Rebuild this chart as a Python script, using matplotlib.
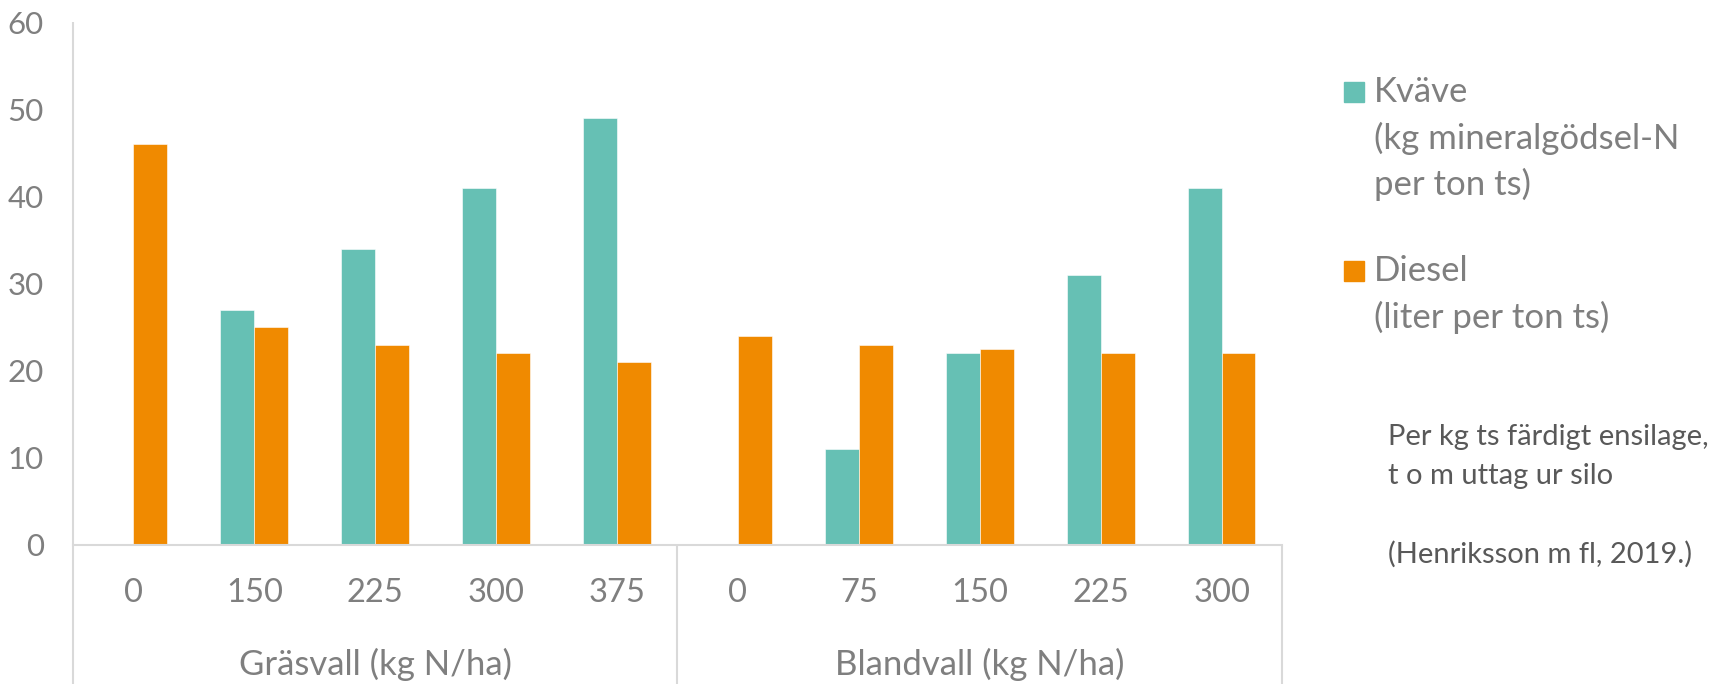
import matplotlib.pyplot as plt
import numpy as np
from matplotlib.patches import Rectangle

plt.rcParams['font.family'] = ['Lato', 'DejaVu Sans']

groups = ["Gräsvall (kg N/ha)", "Blandvall (kg N/ha)"]
doses_gras = ["0", "150", "225", "300", "375"]
doses_bland = ["0", "75", "150", "225", "300"]

# kg mineral N per ton DM, nan where no N was given
kvave = [np.nan, 27, 34, 41, 49, np.nan, 11, 22, 31, 41]
# litres diesel per ton DM
diesel = [46, 25, 23, 22, 21, 24, 23, 22.5, 22, 22]

legend_kvave = ["Kväve", "(kg mineralgödsel-N", "per ton ts)"]
legend_diesel = ["Diesel", "(liter per ton ts)"]
note = ["Per kg ts färdigt ensilage,", "t o m uttag ur silo", "", "(Henriksson m fl, 2019.)"]

teal = "#66C0B4"
orange = "#F08A00"
grey = "#7F7F7F"
line_c = "#D9D9D9"

W, H = 1715, 684
fig = plt.figure(figsize=(W / 100, H / 100), dpi=100)
ax = fig.add_axes([73 / W, 139 / H, (1282 - 73) / W, (545 - 22) / H])

labels = doses_gras + doses_bland
x = np.arange(len(labels)) + 0.5
bw = 0.28
ax.bar(x - bw / 2, kvave, bw, color=teal, edgecolor="white", linewidth=0.4)
ax.bar(x + bw / 2, diesel, bw, color=orange, edgecolor="white", linewidth=0.4)

ax.set_xlim(0, len(labels))
ax.set_ylim(0, 60)
ax.set_yticks(range(0, 61, 10))
ax.tick_params(axis='y', length=0, pad=21, labelsize=22.5, labelcolor=grey)
ax.set_xticks([])
for s in ax.spines.values():
    s.set_visible(False)

# category axis box: baseline, left axis line and group separators
xt = ax.get_xaxis_transform()
ax.plot([0, len(labels)], [0, 0], color=line_c, lw=1.5, clip_on=False)
ax.vlines([0], -0.27, 1.0, transform=xt, color=line_c, lw=1.5, clip_on=False)
ax.vlines([5, 10], -0.27, 0, transform=xt, color=line_c, lw=1.5, clip_on=False)

for xi, lab in zip(x, labels):
    ax.text(xi, -0.092, lab, transform=xt, ha='center', va='center', fontsize=23.5, color=grey)
for gi, g in enumerate(groups):
    ax.text(gi * 5 + 2.5, -0.229, g, transform=xt, ha='center', va='center', fontsize=25, color=grey)

# legend drawn on the figure, square aligned with the first line of each entry
def legend_entry(lines, color, y0):
    fig.patches.append(Rectangle((1344 / W, 1 - (y0 + 10) / H), 20 / W, 20 / H,
                                 transform=fig.transFigure, color=color))
    for k, t in enumerate(lines):
        fig.text(1374 / W, 1 - (y0 + k * 46) / H, t, ha='left', va='center', fontsize=25, color=grey)

legend_entry(legend_kvave, teal, 92)
legend_entry(legend_diesel, orange, 271)

for k, t in enumerate(note):
    fig.text(1388 / W, 1 - (437 + k * 39) / H, t, ha='left', va='center', fontsize=21, color="#595959")

fig.savefig("out.png", dpi=100)
